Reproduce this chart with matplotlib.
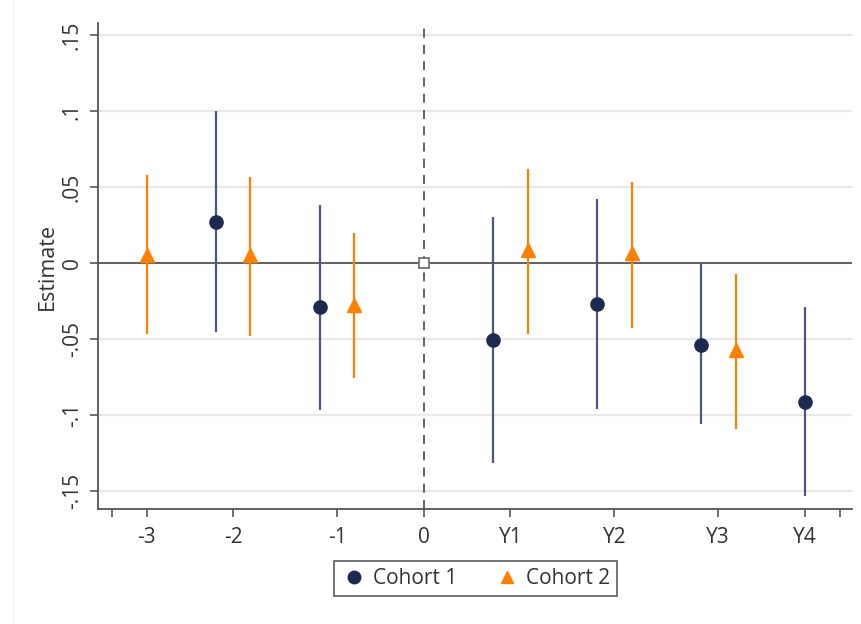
import numpy as np
import matplotlib.pyplot as plt
from matplotlib.lines import Line2D

plt.rcParams['font.family'] = ['Open Sans', 'DejaVu Sans']

# event-time positions (grid units) and estimates
c1_x = [-6, -3, 2, 5, 8, 11]
c1_est = [0.027, -0.029, -0.0506, -0.027, -0.0536, -0.0912]
c1_lo = [-0.0453, -0.0965, -0.1317, -0.0958, -0.106, -0.153]
c1_hi = [0.100, 0.0385, 0.0301, 0.042, 0.0, -0.0292]

c2_x = [-8, -5, -2, 3, 6, 9]
c2_est = [0.0053, 0.0053, -0.0277, 0.0086, 0.0064, -0.0574]
c2_lo = [-0.047, -0.0477, -0.0754, -0.0464, -0.0424, -0.109]
c2_hi = [0.0578, 0.0567, 0.0196, 0.062, 0.0536, -0.0071]

ref_x, ref_est = 0, 0.0

tick_pos = [-9, -8, -5.5, -2.5, 0, 2.5, 5.5, 8.5, 11, 12]
tick_lab = ['', '-3', '-2', '-1', '0', 'Y1', 'Y2', 'Y3', 'Y4', '']
y_ticks = [-0.15, -0.1, -0.05, 0, 0.05, 0.1, 0.15]
y_labs = ['-.15', '-.1', '-.05', '0', '.05', '.1', '.15']

navy = '#1c2a52'
navy_line = '#4b587c'
orange = '#ff8000'

fig = plt.figure(figsize=(8.62, 6.24), dpi=100)
ax = fig.add_axes([0.1137, 0.184, 0.8743, 0.779])

for yt in y_ticks:
    ax.axhline(yt, color='#e8e8e8', lw=1.6, zorder=0)
ax.axhline(0, color='#555555', lw=1.3, zorder=1)
ax.axvline(0, color='#555555', lw=1.3, ls=(0, (5, 4)), zorder=1)

ax.vlines(c1_x, c1_lo, c1_hi, color=navy_line, lw=1.6, zorder=2)
ax.vlines(c2_x, c2_lo, c2_hi, color=orange, lw=1.6, zorder=2)
ax.plot(c1_x, c1_est, 'o', color=navy, ms=9.5, ls='none', zorder=3)
ax.plot(c2_x, c2_est, '^', color=orange, ms=9.5, ls='none', zorder=3)
ax.plot([ref_x], [ref_est], 's', mfc='white', mec='#666666', mew=1.2, ms=7, zorder=3)

ax.set_xlim(-9.4, 12.35)
ax.set_ylim(-0.162, 0.158)
ax.set_xticks(tick_pos)
ax.set_xticklabels(tick_lab)
ax.set_yticks(y_ticks)
ax.set_yticklabels(y_labs, rotation=90, va='center')
ax.tick_params(axis='both', colors='#555555', length=6, width=1.2, labelsize=15,
               labelcolor='#333333')
ax.tick_params(axis='x', pad=7)
ax.tick_params(axis='y', pad=5)
ax.set_ylabel('Estimate', fontsize=15.5, color='#333333', labelpad=3)

for s in ['top', 'right']:
    ax.spines[s].set_visible(False)
for s in ['left', 'bottom']:
    ax.spines[s].set_color('#555555')
    ax.spines[s].set_linewidth(1.3)

handles = [
    Line2D([], [], marker='o', color=navy, ls='none', ms=9),
    Line2D([], [], marker='^', color=orange, ls='none', ms=9),
]
leg = fig.legend(handles, ['Cohort 1', 'Cohort 2'], loc='center', ncol=2,
                 bbox_to_anchor=(0.5516, 0.073), fontsize=15, frameon=True,
                 fancybox=False, edgecolor='#333333', handletextpad=0.3,
                 columnspacing=1.8, handlelength=1.2, borderpad=0.35)
leg.get_frame().set_linewidth(1.2)
for t in leg.get_texts():
    t.set_color('#333333')

fig.add_artist(Line2D([13 / 862, 13 / 862], [0, 1], color='#f0f0f0', lw=1))

fig.savefig('out.png', dpi=100)
